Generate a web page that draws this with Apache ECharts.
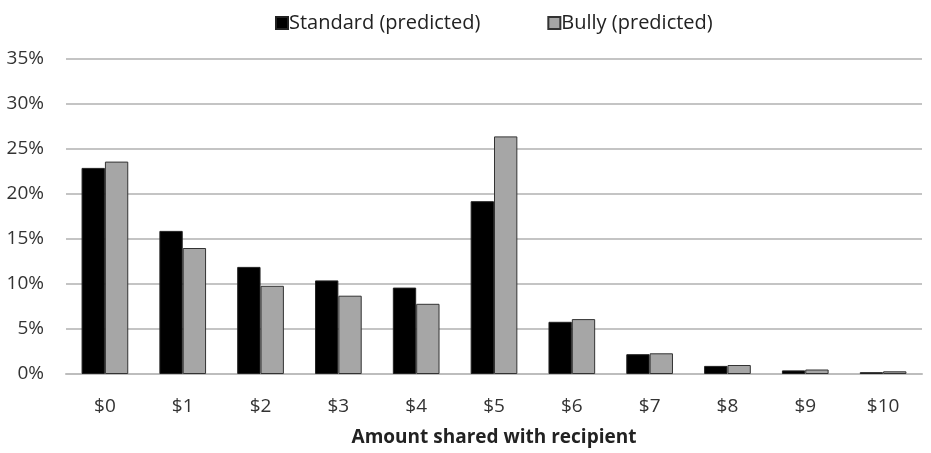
<!DOCTYPE html>
<html><head><meta charset="utf-8">
<script src="https://cdn.jsdelivr.net/npm/echarts@6/dist/echarts.min.js"></script>
<style>html,body{margin:0;padding:0;background:#fff}#c{width:931px;height:453px}</style>
</head><body><div id="c"></div>
<script>
const categories = ['$0','$1','$2','$3','$4','$5','$6','$7','$8','$9','$10'];
const standard = [22.9, 15.9, 11.9, 10.4, 9.6, 19.2, 5.8, 2.2, 0.9, 0.4, 0.2];
const bully = [23.6, 14.0, 9.8, 8.7, 7.8, 26.4, 6.1, 2.3, 1.0, 0.5, 0.3];
const yTicks = [0, 5, 10, 15, 20, 25, 30, 35];
const FONT = 'Open Sans';
const chart = echarts.init(document.getElementById('c'));
chart.setOption({
  animation: false,
  textStyle: { fontFamily: FONT },
  legend: {
    top: 8, left: 270, itemWidth: 12, itemHeight: 12, itemGap: 67,
    icon: 'rect',
    textStyle: { fontFamily: FONT, fontSize: 20, color: '#222', padding: [0, 0, 0, -4] },
    data: ['Standard (predicted)', 'Bully (predicted)']
  },
  grid: { left: 66, right: 9, top: 59, bottom: 79 },
  xAxis: {
    type: 'category', data: categories,
    name: 'Amount shared with recipient', nameLocation: 'middle', nameGap: 54,
    nameTextStyle: { fontFamily: FONT, fontSize: 19, fontWeight: 'bold', color: '#222' },
    axisLine: { lineStyle: { color: '#bdbdbd', width: 2 } },
    axisTick: { show: false },
    axisLabel: { fontFamily: FONT, fontSize: 19, color: '#333', margin: 23 }
  },
  yAxis: {
    type: 'value', min: 0, max: 35, interval: 5,
    axisLine: { show: false }, axisTick: { show: false },
    axisLabel: { fontFamily: FONT, fontSize: 19, color: '#333', margin: 22, formatter: v => yTicks.includes(v) ? v + '%' : '' },
    splitLine: { lineStyle: { color: '#c4c4c4', width: 2 } }
  },
  series: [
    { name: 'Standard (predicted)', type: 'bar', data: standard, barGap: '0%', barCategoryGap: '40%',
      itemStyle: { color: '#000', borderColor: '#222', borderWidth: 1 } },
    { name: 'Bully (predicted)', type: 'bar', data: bully,
      itemStyle: { color: '#a6a6a6', borderColor: '#333', borderWidth: 1 } }
  ]
});
</script></body></html>
